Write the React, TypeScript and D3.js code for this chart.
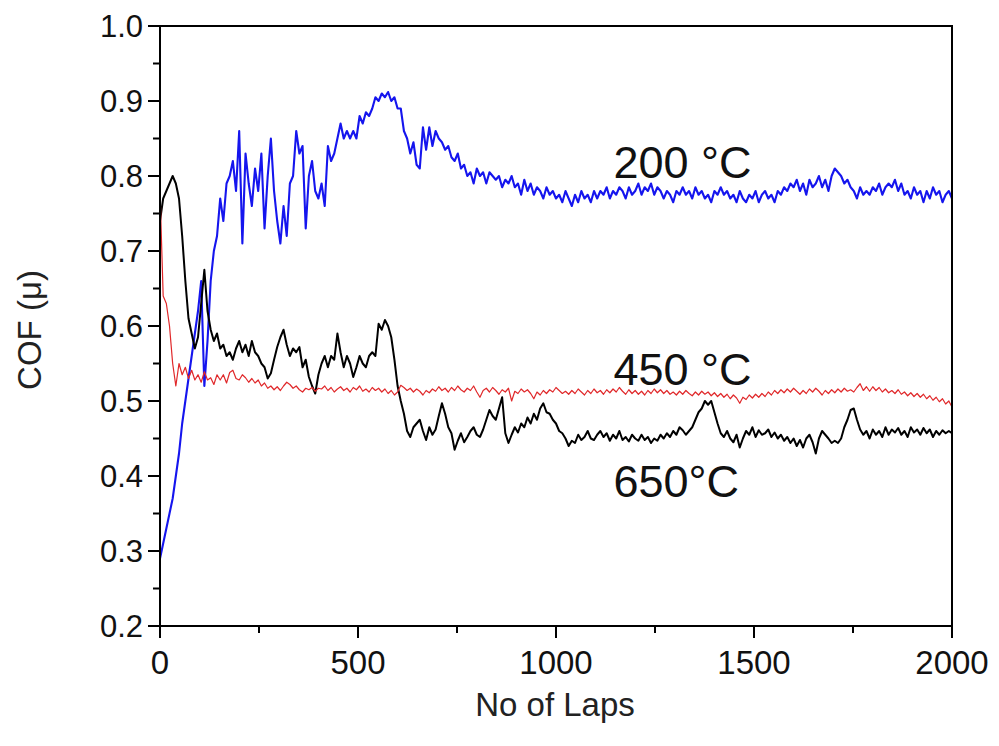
import React from "react";
import * as d3 from "d3";

// ---------- data (values sampled every ~8 laps, 0..2000) ----------
const xTicks = [0, 500, 1000, 1500, 2000];
const xMinorTicks = [250, 750, 1250, 1750];
const yTicks = [0.2, 0.3, 0.4, 0.5, 0.6, 0.7, 0.8, 0.9, 1.0];
const yMinorTicks = [0.25, 0.35, 0.45, 0.55, 0.65, 0.75, 0.85, 0.95];

const series200 = [
  0.29, 0.31, 0.33, 0.35, 0.37, 0.40, 0.43, 0.47, 0.50, 0.53,
  0.56, 0.59, 0.62, 0.66, 0.52, 0.58, 0.66, 0.70, 0.72, 0.77,
  0.74, 0.79, 0.80, 0.82, 0.78, 0.86, 0.71, 0.83, 0.79, 0.76,
  0.81, 0.78, 0.83, 0.73, 0.80, 0.85, 0.78, 0.74, 0.71, 0.76,
  0.72, 0.79, 0.80, 0.86, 0.83, 0.84, 0.73, 0.80, 0.82, 0.78,
  0.77, 0.79, 0.76, 0.84, 0.82, 0.83, 0.85, 0.87, 0.85, 0.86,
  0.85, 0.86, 0.85, 0.88, 0.87, 0.885, 0.88, 0.89, 0.905, 0.90,
  0.91, 0.905, 0.912, 0.90, 0.905, 0.89, 0.89, 0.86, 0.85, 0.83,
  0.845, 0.815, 0.81, 0.865, 0.835, 0.865, 0.84, 0.86, 0.85, 0.845,
  0.835, 0.84, 0.825, 0.82, 0.83, 0.81, 0.815, 0.80, 0.805, 0.79,
  0.81, 0.80, 0.805, 0.79, 0.805, 0.80, 0.795, 0.80, 0.785, 0.795,
  0.79, 0.80, 0.785, 0.79, 0.775, 0.795, 0.78, 0.79, 0.775, 0.785,
  0.78, 0.77, 0.785, 0.775, 0.78, 0.77, 0.775, 0.765, 0.78, 0.77,
  0.76, 0.775, 0.765, 0.78, 0.77, 0.775, 0.765, 0.78, 0.77, 0.78,
  0.775, 0.785, 0.77, 0.78, 0.775, 0.785, 0.78, 0.77, 0.785, 0.775,
  0.78, 0.79, 0.775, 0.785, 0.78, 0.79, 0.775, 0.785, 0.78, 0.77,
  0.78, 0.775, 0.765, 0.78, 0.775, 0.785, 0.775, 0.78, 0.77, 0.785,
  0.775, 0.78, 0.77, 0.775, 0.765, 0.78, 0.775, 0.785, 0.775, 0.78,
  0.77, 0.775, 0.765, 0.78, 0.77, 0.765, 0.775, 0.77, 0.78, 0.765,
  0.775, 0.78, 0.77, 0.775, 0.765, 0.78, 0.775, 0.785, 0.78, 0.79,
  0.785, 0.795, 0.78, 0.79, 0.775, 0.795, 0.785, 0.79, 0.80, 0.785,
  0.795, 0.78, 0.80, 0.81, 0.805, 0.80, 0.79, 0.795, 0.785, 0.78,
  0.77, 0.785, 0.775, 0.78, 0.775, 0.785, 0.78, 0.79, 0.775, 0.785,
  0.79, 0.785, 0.795, 0.78, 0.79, 0.775, 0.78, 0.77, 0.785, 0.775,
  0.78, 0.765, 0.78, 0.77, 0.785, 0.775, 0.78, 0.765, 0.775, 0.78,
  0.77,
];

const series450 = [
  0.78, 0.64, 0.63, 0.60, 0.55, 0.52, 0.55, 0.535, 0.545, 0.53,
  0.541, 0.528, 0.535, 0.525, 0.539, 0.528, 0.531, 0.522, 0.535, 0.528,
  0.535, 0.524, 0.538, 0.541, 0.53, 0.528, 0.535, 0.531, 0.525, 0.53,
  0.524, 0.528, 0.52, 0.524, 0.517, 0.52, 0.515, 0.519, 0.514, 0.52,
  0.525, 0.522, 0.517, 0.52, 0.515, 0.512, 0.517, 0.515, 0.518, 0.513,
  0.517, 0.516, 0.52, 0.514, 0.518, 0.512, 0.516, 0.519, 0.514, 0.517,
  0.512, 0.518, 0.515, 0.52, 0.513, 0.516, 0.512, 0.518, 0.514, 0.517,
  0.512, 0.516, 0.51, 0.514, 0.508, 0.512, 0.521, 0.518, 0.514, 0.517,
  0.512, 0.516, 0.513, 0.508, 0.514, 0.511, 0.516, 0.513, 0.519, 0.514,
  0.517, 0.512, 0.518, 0.514, 0.52, 0.515, 0.512, 0.517, 0.514, 0.52,
  0.512, 0.505, 0.514, 0.517, 0.512, 0.518, 0.514, 0.509, 0.515, 0.512,
  0.517, 0.50, 0.513, 0.51, 0.516, 0.512, 0.515, 0.51, 0.503, 0.512,
  0.508, 0.514, 0.51, 0.515, 0.512, 0.518, 0.514, 0.51, 0.513, 0.509,
  0.514, 0.51, 0.516, 0.512, 0.508, 0.514, 0.51, 0.516, 0.511, 0.514,
  0.509, 0.515, 0.511, 0.516, 0.512, 0.518, 0.513, 0.509, 0.515, 0.51,
  0.514, 0.509, 0.513, 0.508, 0.514, 0.51, 0.516, 0.511, 0.515, 0.51,
  0.514, 0.509, 0.512, 0.508, 0.513, 0.509, 0.514, 0.51, 0.507, 0.512,
  0.508, 0.513, 0.509, 0.512, 0.507, 0.511, 0.506, 0.51, 0.505, 0.509,
  0.503, 0.508, 0.504, 0.497, 0.505, 0.502, 0.508, 0.504, 0.509, 0.505,
  0.51, 0.506, 0.512, 0.508, 0.514, 0.51, 0.515, 0.511, 0.516, 0.512,
  0.517, 0.513, 0.509, 0.514, 0.51, 0.516, 0.512, 0.517, 0.513, 0.508,
  0.514, 0.51, 0.515, 0.511, 0.516, 0.512, 0.517, 0.513, 0.515, 0.512,
  0.518, 0.523, 0.514, 0.519, 0.513, 0.519, 0.514, 0.518, 0.512, 0.516,
  0.511, 0.514, 0.51, 0.515, 0.509, 0.512, 0.507, 0.511, 0.506, 0.51,
  0.505, 0.509, 0.503, 0.507, 0.501, 0.505, 0.499, 0.503, 0.496, 0.50,
  0.492,
];

const series650 = [
  0.74, 0.77, 0.78, 0.79, 0.80, 0.79, 0.77, 0.72, 0.66, 0.61,
  0.59, 0.57, 0.585, 0.63, 0.675, 0.62, 0.595, 0.58, 0.59, 0.57,
  0.575, 0.56, 0.565, 0.555, 0.57, 0.58, 0.565, 0.575, 0.56, 0.58,
  0.565, 0.56, 0.55, 0.545, 0.53, 0.537, 0.555, 0.572, 0.585, 0.595,
  0.575, 0.56, 0.57, 0.565, 0.572, 0.545, 0.555, 0.532, 0.52, 0.51,
  0.535, 0.55, 0.56, 0.545, 0.56, 0.555, 0.59, 0.565, 0.545, 0.56,
  0.55, 0.532, 0.545, 0.56, 0.55, 0.545, 0.56, 0.565, 0.56, 0.603,
  0.595, 0.608, 0.60, 0.585, 0.555, 0.52, 0.50, 0.483, 0.46, 0.452,
  0.465, 0.47, 0.475, 0.46, 0.448, 0.465, 0.455, 0.462, 0.48, 0.497,
  0.483, 0.465, 0.457, 0.435, 0.447, 0.457, 0.445, 0.452, 0.46, 0.465,
  0.455, 0.452, 0.462, 0.475, 0.488, 0.48, 0.475, 0.49, 0.505, 0.457,
  0.444, 0.455, 0.465, 0.458, 0.47, 0.465, 0.478, 0.47, 0.483, 0.475,
  0.49, 0.497, 0.485, 0.483, 0.475, 0.47, 0.46, 0.457, 0.45, 0.44,
  0.447, 0.444, 0.455, 0.448, 0.452, 0.46, 0.45, 0.448, 0.455, 0.46,
  0.452, 0.457, 0.447, 0.455, 0.45, 0.46, 0.448, 0.452, 0.446, 0.455,
  0.45, 0.447, 0.455, 0.448, 0.452, 0.444, 0.45, 0.447, 0.455, 0.45,
  0.457, 0.452, 0.46, 0.455, 0.465, 0.461, 0.455, 0.46, 0.465, 0.475,
  0.485, 0.49, 0.50, 0.495, 0.50, 0.485, 0.47, 0.457, 0.452, 0.46,
  0.45, 0.445, 0.455, 0.438, 0.45, 0.46, 0.455, 0.465, 0.452, 0.461,
  0.455, 0.457, 0.462, 0.452, 0.458, 0.45, 0.455, 0.447, 0.452, 0.444,
  0.45, 0.44, 0.448, 0.438, 0.45, 0.455, 0.445, 0.43, 0.45, 0.46,
  0.455, 0.45, 0.444, 0.447, 0.444, 0.45, 0.465, 0.475, 0.488, 0.49,
  0.475, 0.462, 0.455, 0.46, 0.45, 0.462, 0.455, 0.46, 0.452, 0.465,
  0.455, 0.462, 0.458, 0.464, 0.455, 0.46, 0.452, 0.465, 0.458, 0.462,
  0.455, 0.464, 0.457, 0.462, 0.452, 0.46, 0.455, 0.461, 0.457, 0.46,
  0.457,
];

const labels = [
  { text: "200 °C", lap: 1145, value: 0.797 },
  { text: "450 °C", lap: 1145, value: 0.521 },
  { text: "650°C", lap: 1145, value: 0.372 },
];

// ---------- layout ----------
const W = 999;
const H = 746;
const L = 160;
const R = 952;
const T = 26;
const B = 626;
const FONT = "'Liberation Sans', Arial, Helvetica, sans-serif";

export default function App() {
  const x = d3.scaleLinear().domain([0, 2000]).range([L, R]);
  const y = d3.scaleLinear().domain([0.2, 1.0]).range([B, T]);

  const mk = (vals: number[]) => {
    const step = 2000 / (vals.length - 1);
    return d3
      .line<number>()
      .x((_, i) => x(i * step))
      .y((v) => y(v))(vals) as string;
  };

  return (
    <svg
      width={W}
      height={H}
      viewBox={`0 0 ${W} ${H}`}
      style={{ position: "absolute", left: 0, top: 0, background: "#fff" }}
    >
      <defs>
        <clipPath id="plot">
          <rect x={L} y={T} width={R - L} height={B - T} />
        </clipPath>
      </defs>
      <rect x={0} y={0} width={W} height={H} fill="#fff" />

      <g clipPath="url(#plot)" fill="none" strokeLinejoin="round">
        <path d={mk(series200)} stroke="#1515ee" strokeWidth={2.1} />
        <path d={mk(series650)} stroke="#000" strokeWidth={2} />
        <path d={mk(series450)} stroke="#e0282a" strokeWidth={1.2} />
      </g>

      {/* frame */}
      <rect x={L} y={T} width={R - L} height={B - T} fill="none" stroke="#000" strokeWidth={2} />

      {/* y ticks */}
      {yTicks.map((t) => (
        <g key={"y" + t}>
          <line x1={L - 12} x2={L} y1={y(t)} y2={y(t)} stroke="#000" strokeWidth={2} />
          <text
            x={L - 17}
            y={y(t)}
            dy="0.36em"
            textAnchor="end"
            fontFamily={FONT}
            fontSize={31}
            fill="#111"
          >
            {t.toFixed(1)}
          </text>
        </g>
      ))}
      {yMinorTicks.map((t) => (
        <line key={"ym" + t} x1={L - 7} x2={L} y1={y(t)} y2={y(t)} stroke="#000" strokeWidth={2} />
      ))}

      {/* x ticks */}
      {xTicks.map((t) => (
        <g key={"x" + t}>
          <line x1={x(t)} x2={x(t)} y1={B} y2={B + 12} stroke="#000" strokeWidth={2} />
          <text
            x={x(t)}
            y={B + 48}
            textAnchor="middle"
            fontFamily={FONT}
            fontSize={33}
            fill="#111"
          >
            {t}
          </text>
        </g>
      ))}
      {xMinorTicks.map((t) => (
        <line key={"xm" + t} x1={x(t)} x2={x(t)} y1={B} y2={B + 7} stroke="#000" strokeWidth={2} />
      ))}

      {/* axis titles */}
      <text
        x={555}
        y={716}
        textAnchor="middle"
        fontFamily={FONT}
        fontSize={33}
        fill="#222"
      >
        No of Laps
      </text>
      <text
        transform={`translate(41, 330) rotate(-90)`}
        textAnchor="middle"
        fontFamily={FONT}
        fontSize={33}
        fill="#222"
      >
        COF (μ)
      </text>

      {/* annotations */}
      {labels.map((d) => (
        <text
          key={d.text}
          x={x(d.lap)}
          y={y(d.value)}
          fontFamily={FONT}
          fontSize={45}
          fill="#111"
        >
          {d.text}
        </text>
      ))}
    </svg>
  );
}
